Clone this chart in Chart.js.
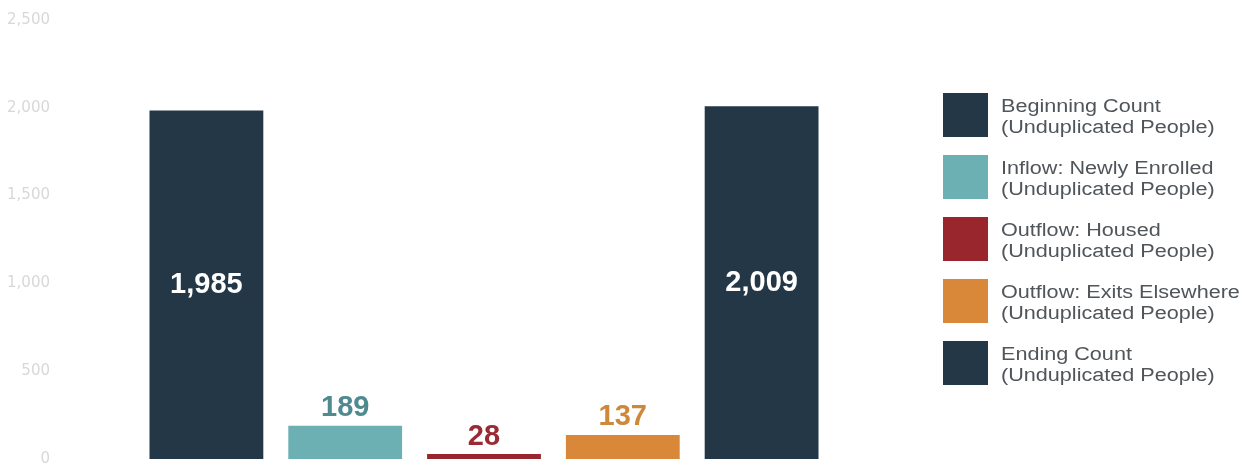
<!DOCTYPE html>
<html>
<head>
<meta charset="utf-8">
<script src="https://cdn.jsdelivr.net/npm/chart.js@4/dist/chart.umd.min.js"></script>
<style>
  html, body { margin: 0; padding: 0; background: #fff; }
  #wrap { width: 1241px; height: 464px; position: relative; }
</style>
</head>
<body>
<div id="wrap"><canvas id="chart"></canvas></div>
<script>
const categories = ['Beginning Count', 'Inflow: Newly Enrolled', 'Outflow: Housed', 'Outflow: Exits Elsewhere', 'Ending Count'];
const legendSub = '(Unduplicated People)';
const counts = [1985, 189, 28, 137, 2009];
const barColors = ['#243746', '#6db0b3', '#9a262d', '#d9883a', '#243746'];
const labelColors = ['#ffffff', '#4f8a90', '#9a2a33', '#cd883c', '#ffffff'];
const yTicks = [0, 500, 1000, 1500, 2000, 2500];

// one dataset per bar so each one gets its own legend entry
const datasets = categories.map((name, i) => ({
  label: name,
  data: counts.map((v, j) => (j === i ? v : null)),
  backgroundColor: barColors[i],
  barPercentage: 0.82,
  categoryPercentage: 1
}));

const valueLabels = {
  id: 'valueLabels',
  afterDatasetsDraw(chart) {
    const ctx = chart.ctx;
    ctx.save();
    ctx.font = 'bold 29px "Liberation Sans", Arial, sans-serif';
    ctx.textAlign = 'center';
    chart.data.datasets.forEach((ds, i) => {
      const bar = chart.getDatasetMeta(i).data[i];
      const v = counts[i];
      const txt = v.toLocaleString('en-US');
      ctx.fillStyle = labelColors[i];
      if (v > 1000) {
        ctx.textBaseline = 'middle';
        ctx.fillText(txt, bar.x, (bar.y + bar.base) / 2);
      } else {
        ctx.textBaseline = 'bottom';
        ctx.fillText(txt, bar.x, bar.y - 3);
      }
    });
    ctx.restore();
  }
};

const sideLegend = {
  id: 'sideLegend',
  afterDraw(chart) {
    const ctx = chart.ctx;
    ctx.save();
    ctx.font = '18px "Liberation Sans", Arial, sans-serif';
    ctx.textAlign = 'left';
    ctx.textBaseline = 'middle';
    chart.data.datasets.forEach((ds, i) => {
      const top = 93 + i * 62;
      ctx.fillStyle = ds.backgroundColor;
      ctx.fillRect(943, top, 45, 44);
      ctx.fillStyle = '#50555a';
      [ds.label, legendSub].forEach((line, k) => {
        ctx.save();
        ctx.translate(1001, top + 14 + k * 21);
        ctx.scale(1.2, 1);
        ctx.fillText(line, 0, 0);
        ctx.restore();
      });
    });
    ctx.restore();
  }
};

new Chart(document.getElementById('chart'), {
  type: 'bar',
  data: { labels: categories, datasets },
  options: {
    responsive: true,
    maintainAspectRatio: false,
    animation: false,
    layout: { padding: { top: 20, right: 410, bottom: 5, left: 0 } },
    plugins: {
      legend: { display: false },
      tooltip: { enabled: false }
    },
    scales: {
      x: {
        stacked: true,
        display: false
      },
      y: {
        stacked: true,
        min: 0,
        max: 2500,
        afterBuildTicks(scale) {
          scale.ticks = yTicks.map(v => ({ value: v }));
        },
        afterFit(scale) {
          scale.width = 137;
          scale.paddingTop = 0;
          scale.paddingBottom = 0;
        },
        grid: { display: false, drawTicks: false },
        border: { display: false },
        ticks: {
          padding: 87,
          color: '#d8d8d8',
          font: { family: '"DejaVu Sans", sans-serif', size: 15 },
          callback: v => v.toLocaleString('en-US')
        }
      }
    }
  },
  plugins: [valueLabels, sideLegend]
});
</script>
</body>
</html>
